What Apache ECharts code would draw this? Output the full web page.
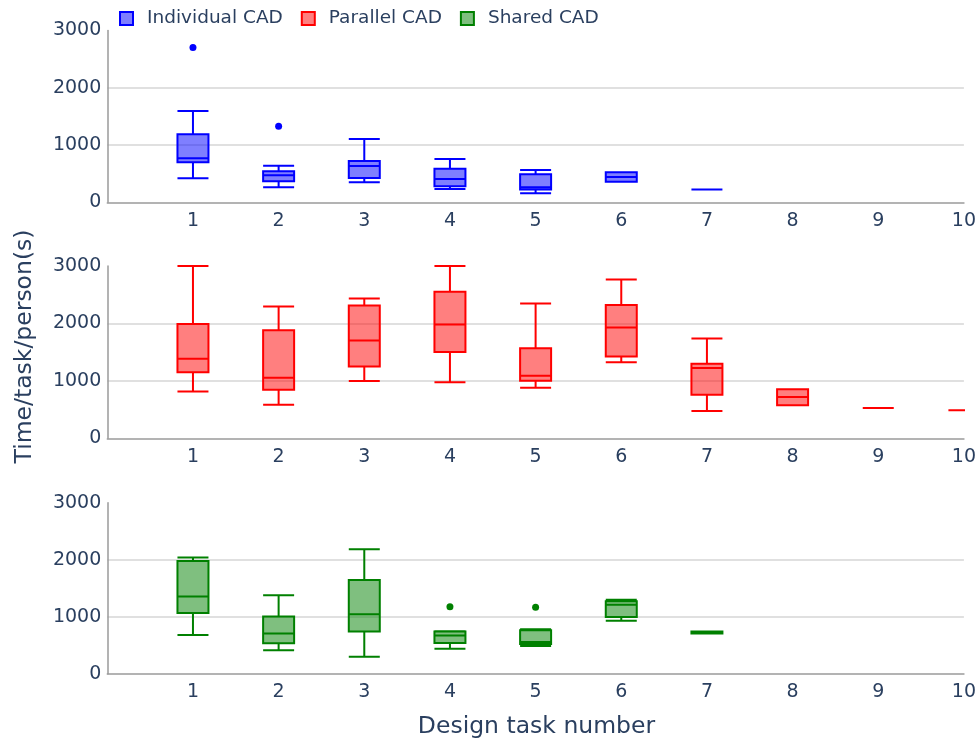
<!DOCTYPE html>
<html>
<head>
<meta charset="utf-8">
<script src="https://cdn.jsdelivr.net/npm/echarts@6/dist/echarts.min.js"></script>
<style>html,body{margin:0;padding:0;background:#fff;}#c{width:979px;height:740px;}</style>
</head>
<body>
<div id="c"></div>
<script>
// Categories (design task numbers); index 0 is the empty left edge
var categories = ['0','1','2','3','4','5','6','7','8','9','10'];
var yTicks = [0, 1000, 2000, 3000];
var seriesNames = ['Individual CAD', 'Parallel CAD', 'Shared CAD'];

// Box values per task: [min, Q1, median, Q3, max]
var individualTasks = [1, 2, 3, 4, 5, 6, 7];
var individualBoxes = [
  [419, 698, 768, 1187, 1593],
  [262, 366, 471, 541, 639],
  [349, 424, 634, 721, 1105],
  [232, 279, 407, 587, 756],
  [157, 225, 262, 489, 564],
  [360, 360, 442, 524, 524],
  [225, 225, 225, 225, 225]
];
var individualOutliers = [[1, 2700], [2, 1326]];

var parallelTasks = [1, 2, 3, 4, 5, 6, 7, 8, 9, 10];
var parallelBoxes = [
  [817, 1148, 1385, 1988, 3000],
  [584, 845, 1054, 1883, 2296],
  [997, 1252, 1704, 2313, 2435],
  [974, 1501, 1983, 2550, 3000],
  [880, 1002, 1089, 1570, 2348],
  [1322, 1426, 1930, 2323, 2765],
  [475, 758, 1223, 1297, 1739],
  [574, 574, 718, 852, 852],
  [527, 527, 527, 527, 527],
  [487, 487, 487, 487, 487]
];
var parallelOutliers = [];

var sharedTasks = [1, 2, 3, 4, 5, 6, 7];
var sharedBoxes = [
  [680, 1063, 1354, 1976, 2040],
  [413, 535, 704, 1005, 1376],
  [296, 739, 1045, 1645, 2185],
  [436, 540, 669, 739, 745],
  [488, 523, 558, 761, 779],
  [930, 993, 1209, 1272, 1296],
  [705, 705, 720, 740, 740]
];
var sharedOutliers = [[4, 1174], [5, 1167]];

var strokeColors = ['#0000ff', '#ff0000', '#008000'];
var fillColors = ['rgba(0,0,255,0.5)', 'rgba(255,0,0,0.5)', 'rgba(0,128,0,0.5)'];

var FONT = 'DejaVu Sans';
var TXT = '#2a3f5f';

var gridTops = [30.4, 266, 502.7];
var gridHeights = [171.9, 172.3, 171];

var allTasks = [individualTasks, parallelTasks, sharedTasks];
var allBoxes = [individualBoxes, parallelBoxes, sharedBoxes];
var allOutliers = [individualOutliers, parallelOutliers, sharedOutliers];

var grids = [], xAxes = [], yAxes = [], series = [];
for (var g = 0; g < 3; g++) {
  grids.push({left: 107.3, right: 15, top: gridTops[g], height: gridHeights[g], containLabel: false});
  xAxes.push({
    type: 'category', gridIndex: g, data: categories, boundaryGap: false,
    axisLine: {show: true, lineStyle: {color: '#9a9a9a', width: 1.5}},
    axisTick: {show: false},
    splitLine: {show: false},
    axisLabel: {
      color: TXT, fontFamily: FONT, fontSize: 19, margin: 9, interval: 0,
      formatter: function (v) { return v === '0' ? '' : v; }
    }
  });
  yAxes.push({
    type: 'value', gridIndex: g, min: yTicks[0], max: yTicks[yTicks.length - 1], interval: 1000,
    axisLine: {show: true, lineStyle: {color: '#9a9a9a', width: 1.5}},
    axisTick: {show: false},
    splitLine: {show: true, lineStyle: {color: ['rgba(0,0,0,0)', '#d6d6d6', '#d6d6d6', 'rgba(0,0,0,0)'], width: 1.5}},
    axisLabel: {color: TXT, fontFamily: FONT, fontSize: 19, margin: 6,
      formatter: function (v) { return String(v); }}
  });
  var items = allBoxes[g].map(function (b, i) { return [allTasks[g][i]].concat(b); });
  series.push({
    name: seriesNames[g], type: 'boxplot', xAxisIndex: g, yAxisIndex: g,
    encode: {x: 0, y: [1, 2, 3, 4, 5]},
    data: items,
    boxWidth: [31, 31],
    itemStyle: {color: fillColors[g], borderColor: strokeColors[g], borderWidth: 2},
    emphasis: {disabled: true},
    z: 3
  });
  if (allOutliers[g].length) {
    series.push({
      name: seriesNames[g], type: 'scatter', xAxisIndex: g, yAxisIndex: g,
      data: allOutliers[g], symbolSize: 7,
      itemStyle: {color: strokeColors[g], opacity: 1}, z: 4
    });
  }
}

var option = {
  backgroundColor: '#ffffff',
  animation: false,
  textStyle: {fontFamily: FONT},
  legend: {
    left: 114, top: 4, itemWidth: 13, itemHeight: 13, itemGap: 18,
    icon: 'rect',
    textStyle: {color: TXT, fontFamily: FONT, fontSize: 18.5, padding: [0, 0, 0, 9]},
    data: seriesNames.map(function (n, i) {
      return {name: n, icon: 'rect', itemStyle: {color: fillColors[i], borderColor: strokeColors[i], borderWidth: 2}};
    })
  },
  grid: grids,
  xAxis: xAxes,
  yAxis: yAxes,
  series: series,
  graphic: [
    {type: 'rect', shape: {x: 965, y: 400, width: 20, height: 30}, style: {fill: '#fff'}, z: 100},
    {type: 'text', style: {text: 'Time/task/person(s)', fill: TXT, font: '23.5px "DejaVu Sans"', textAlign: 'center', textVerticalAlign: 'middle'},
     x: 25, y: 346.5, rotation: Math.PI / 2, z: 100},
    {type: 'text', style: {text: 'Design task number', fill: TXT, font: '23.5px "DejaVu Sans"', textAlign: 'center', textVerticalAlign: 'middle'},
     x: 536.5, y: 727, z: 100}
  ]
};
var chart = echarts.init(document.getElementById('c'));
chart.setOption(option);
</script>
</body>
</html>
